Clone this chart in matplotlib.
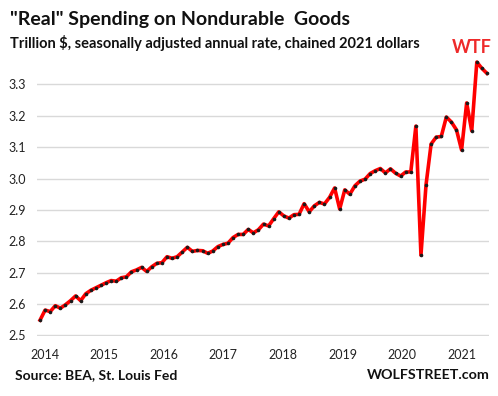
import numpy as np
import matplotlib
matplotlib.use('Agg')
import matplotlib.pyplot as plt

# monthly, Jan 2014 .. May 2021, trillion $
spending = [2.549, 2.581, 2.576, 2.595, 2.587, 2.598, 2.611, 2.626, 2.611, 2.633, 2.644, 2.652,
            2.660, 2.668, 2.675, 2.673, 2.684, 2.687, 2.703, 2.709, 2.717, 2.704, 2.719, 2.730,
            2.732, 2.751, 2.746, 2.751, 2.766, 2.781, 2.768, 2.771, 2.770, 2.762, 2.769, 2.783,
            2.790, 2.794, 2.812, 2.822, 2.822, 2.838, 2.827, 2.837, 2.855, 2.849, 2.872, 2.894,
            2.881, 2.874, 2.885, 2.886, 2.920, 2.894, 2.913, 2.924, 2.919, 2.940, 2.970, 2.903,
            2.964, 2.950, 2.977, 2.992, 2.998, 3.016, 3.025, 3.032, 3.018, 3.031, 3.017, 3.008,
            3.021, 3.021, 3.167, 2.756, 2.980, 3.110, 3.132, 3.134, 3.196, 3.180, 3.155, 3.091,
            3.241, 3.152, 3.371, 3.351, 3.335]
years = ['2014', '2015', '2016', '2017', '2018', '2019', '2020', '2021']
yticks = [2.5, 2.6, 2.7, 2.8, 2.9, 3.0, 3.1, 3.2, 3.3]

plt.rcParams['font.family'] = ['Lato', 'DejaVu Sans']

W, H = 498, 396
fig = plt.figure(figsize=(W / 100, H / 100), dpi=100)
ax = fig.add_axes([37 / W, 1 - 335.5 / H, (489 - 37) / W, (335.5 - 53) / H])

months = np.arange(len(spending))
ax.plot(months, spending, color='#ff0000', lw=2.6, zorder=3)
ax.plot(months, spending, 'o', color='#1a1a1a', ms=2.6, mew=0, zorder=4)

ax.set_xlim(-0.6, 88.4)
ax.set_ylim(2.5, 3.4)
ax.set_yticks(yticks)
ax.set_yticklabels(['%.1f' % v for v in yticks])
ax.set_xticks([0.9 + 11.73 * i for i in range(len(years))])
ax.set_xticklabels(years)
ax.tick_params(length=0, labelsize=9, colors='#222222')
ax.tick_params(axis='y', pad=8)
ax.tick_params(axis='x', pad=10)
ax.grid(axis='y', color='#d9d9d9', lw=1)
ax.set_axisbelow(True)
for s in ax.spines.values():
    s.set_visible(False)

fig.text(10 / W, 1 - 19 / H, '"Real" Spending on Nondurable  Goods', fontsize=14,
         fontweight='bold', va='center', ha='left', color='#111111')
fig.text(10 / W, 1 - 43 / H, 'Trillion $, seasonally adjusted annual rate, chained 2021 dollars',
         fontsize=10.5, fontweight='bold', va='center', ha='left', color='#111111')
fig.text(492 / W, 1 - 47.5 / H, 'WTF', fontsize=13, fontweight='bold', va='center',
         ha='right', color='#ee2a2a')
fig.text(15 / W, 1 - 375 / H, 'Source: BEA, St. Louis Fed', fontsize=10,
         fontweight='bold', va='center', ha='left', color='#111111')
fig.text(490 / W, 1 - 375 / H, 'WOLFSTREET.com', fontsize=10.3,
         fontweight='bold', va='center', ha='right', color='#111111')

fig.savefig('out.png', dpi=100)
